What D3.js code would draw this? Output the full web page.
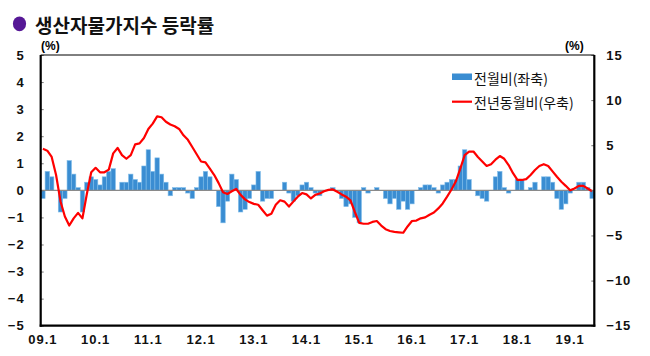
<!DOCTYPE html>
<html><head><meta charset="utf-8">
<script src="https://cdn.jsdelivr.net/npm/d3@7"></script>
<style>
html,body{margin:0;padding:0;background:#fff;}
svg{display:block;}
</style></head>
<body><svg id="c" width="650" height="356"></svg>
<script>
// ---- data ----
const startYear = 2009, monthCount = 126; // 2009.1 .. 2019.6
const months = [];
for (let y = startYear; months.length < monthCount; y++)
  for (let m = 1; m <= 12 && months.length < monthCount; m++)
    months.push(String(y % 100).padStart(2, "0") + "." + m);

// month-on-month change (%), left axis
const momChange = [
  -0.3, 0.7, 0.5, 0.0, -0.8, -0.3, 1.1, 0.6, 0.1, -0.8, 0.3, 0.5,
  0.4, 0.2, 0.5, 0.7, 0.8, 0.0, 0.3, 0.3, 0.6, 0.4, 0.3, 0.9,
  1.5, 0.7, 1.2, 0.6, 0.3, -0.2, 0.1, 0.1, 0.1, -0.1, -0.3, 0.1,
  0.5, 0.7, 0.5, 0.0, -0.6, -1.2, -0.4, 0.6, 0.4, -0.8, -0.7, -0.3,
  0.2, 0.7, -0.4, -0.3, -0.3, 0.0, 0.0, 0.3, -0.1, -0.4, -0.2, 0.2,
  0.3, 0.1, -0.1, -0.2, 0.0, 0.0, 0.1, 0.0, -0.3, -0.6, -0.5, -1.0,
  -1.2, 0.1, -0.1, 0.0, 0.1, 0.0, -0.3, -0.5, -0.3, -0.7, -0.4, -0.7,
  -0.5, 0.0, 0.1, 0.2, 0.2, 0.1, -0.1, 0.2, 0.3, 0.4, 0.4, 0.9,
  1.5, 0.4, 0.0, -0.2, -0.3, -0.4, 0.0, 0.5, 0.7, 0.1, -0.1, 0.0,
  0.4, 0.4, 0.0, 0.1, 0.3, 0.0, 0.5, 0.5, 0.3, -0.3, -0.7, -0.5,
  -0.1, 0.0, 0.3, 0.3, 0.1, -0.3
];
// year-on-year change (%), right axis
const yoyChange = [
  4.6, 4.4, 3.7, 1.7, -1.2, -2.9, -3.9, -3.1, -2.5, -3.1, -0.4, 2.0,
  2.5, 2.0, 2.0, 2.3, 4.1, 4.7, 3.9, 3.5, 3.9, 5.1, 5.2, 5.8,
  6.8, 7.4, 8.2, 8.1, 7.6, 7.3, 7.1, 6.8, 6.1, 5.6, 4.8, 4.0,
  3.2, 3.1, 2.4, 1.7, 0.8, -0.2, -0.4, -0.1, 0.15, -0.5, -1.0, -1.3,
  -1.5, -1.6, -2.2, -2.8, -2.6, -1.6, -1.1, -1.25, -1.8, -1.25, -0.7, -0.3,
  -0.45, -0.9, -0.5, -0.35, -0.1, 0.05, 0.1, -0.15, -0.45, -0.7, -1.1, -2.4,
  -3.6, -3.7, -3.7, -3.5, -3.4, -3.9, -4.3, -4.5, -4.6, -4.65, -4.7, -4.0,
  -3.4, -3.35, -3.1, -3.0, -2.7, -2.45, -2.0, -1.45, -0.7, 0.1, 1.0, 2.4,
  3.9, 4.3, 4.3, 3.7, 3.2, 2.7, 2.9, 3.4, 3.8, 3.5, 2.8, 1.9,
  1.15, 1.15, 1.25, 1.7, 2.25, 2.7, 2.9, 2.7, 2.1, 1.5, 0.96, 0.5,
  0.0, 0.2, 0.5, 0.5, 0.2, -0.1
];
const leftTicks = [-5, -4, -3, -2, -1, 0, 1, 2, 3, 4, 5];
const rightTicks = [-15, -10, -5, 0, 5, 10, 15];
const xTickLabels = ["09.1","10.1","11.1","12.1","13.1","14.1","15.1","16.1","17.1","18.1","19.1"];
const titleText = "생산자물가지수 등락률";
const legendLabels = ["전월비(좌축)", "전년동월비(우축)"];
const unitLabel = "(%)";

// ---- drawing ----
const svg = d3.select("#c");
const L = 40.7, R = 594.3, T = 55, B = 325.7;
const barColor = "#3a8dd2", lineColor = "#ff0000";
const tickFont = "'Liberation Sans', Arial, sans-serif";
const krFont = "'Noto Sans CJK KR', 'Noto Sans', sans-serif";

const x = d3.scaleBand().domain(d3.range(months.length)).range([L, R]).padding(0);
const yL = d3.scaleLinear().domain([-5, 5]).range([B, T]);
const yR = d3.scaleLinear().domain([-15, 15]).range([B, T]);

// title
svg.append("ellipse").attr("cx", 19.5).attr("cy", 23.8).attr("rx", 6.6).attr("ry", 7.4).attr("fill", "#561896");
svg.append("text").attr("x", 35).attr("y", 24).attr("dominant-baseline", "central")
  .attr("font-family", krFont).attr("font-weight", 700).attr("font-size", 19).attr("fill", "#111")
  .text(titleText);

// units
svg.append("text").attr("x", 41).attr("y", 46).attr("dominant-baseline", "central")
  .attr("font-family", tickFont).attr("font-weight", 700).attr("font-size", 12).text(unitLabel);
svg.append("text").attr("x", 565).attr("y", 46).attr("dominant-baseline", "central")
  .attr("font-family", tickFont).attr("font-weight", 700).attr("font-size", 12).text(unitLabel);

// bars
svg.append("g").selectAll("rect").data(momChange).join("rect")
  .attr("x", (d, i) => x(i))
  .attr("width", x.bandwidth())
  .attr("y", d => yL(Math.max(0, d)))
  .attr("height", d => Math.abs(yL(d) - yL(0)))
  .attr("fill", barColor)
  .attr("stroke", "#7fbce9").attr("stroke-width", 0.6);

// zero line
svg.append("line").attr("x1", L).attr("x2", R).attr("y1", yL(0)).attr("y2", yL(0))
  .attr("stroke", "#8a8a8a").attr("stroke-width", 1.3);

// yoy line
const line = d3.line().x((d, i) => x(i) + x.bandwidth() / 2).y(d => yR(d)).curve(d3.curveLinear);
svg.append("path").datum(yoyChange).attr("d", line)
  .attr("fill", "none").attr("stroke", lineColor).attr("stroke-width", 2.2).attr("stroke-linejoin", "round");

// axes
function styleAxis(g) {
  g.select(".domain").remove();
  g.selectAll(".tick line").attr("stroke", "#777");
  g.selectAll("text").attr("font-family", tickFont).attr("font-weight", 700)
    .attr("font-size", 13).attr("fill", "#111").attr("letter-spacing", 1);
}
const fmt = d3.format("d");
svg.append("g").attr("transform", `translate(${L},0)`)
  .call(d3.axisLeft(yL).tickValues(leftTicks).tickFormat(fmt).tickSize(-3).tickPadding(16))
  .call(styleAxis);
svg.append("g").attr("transform", `translate(${R},0)`)
  .call(d3.axisRight(yR).tickValues(rightTicks).tickFormat(fmt).tickSize(-3).tickPadding(12))
  .call(styleAxis);
svg.append("g").attr("transform", `translate(0,${B})`)
  .call(d3.axisBottom(x).tickValues(xTickLabels.map(l => months.indexOf(l))).tickFormat(i => months[i]).tickSize(0).tickPadding(9))
  .call(styleAxis);

// frame
svg.append("line").attr("x1", L).attr("x2", R).attr("y1", T).attr("y2", T).attr("stroke", "#000").attr("stroke-width", 1);
svg.append("line").attr("x1", L).attr("x2", L).attr("y1", T).attr("y2", B + 1).attr("stroke", "#000").attr("stroke-width", 2.2);
svg.append("line").attr("x1", R).attr("x2", R).attr("y1", T).attr("y2", B + 1).attr("stroke", "#000").attr("stroke-width", 2.2);
svg.append("line").attr("x1", L - 1).attr("x2", R + 1).attr("y1", B).attr("y2", B).attr("stroke", "#000").attr("stroke-width", 2.2);

// legend
const lg = svg.append("g");
lg.append("rect").attr("x", 452).attr("y", 73.5).attr("width", 20).attr("height", 6.5).attr("fill", barColor);
lg.append("text").attr("x", 474).attr("y", 77.5).attr("dominant-baseline", "central")
  .attr("font-family", krFont).attr("font-size", 14).attr("fill", "#111").text(legendLabels[0]);
lg.append("line").attr("x1", 452).attr("x2", 472).attr("y1", 101.7).attr("y2", 101.7)
  .attr("stroke", lineColor).attr("stroke-width", 2.2);
lg.append("text").attr("x", 474).attr("y", 101.7).attr("dominant-baseline", "central")
  .attr("font-family", krFont).attr("font-size", 14).attr("fill", "#111").text(legendLabels[1]);
</script>
</body></html>
